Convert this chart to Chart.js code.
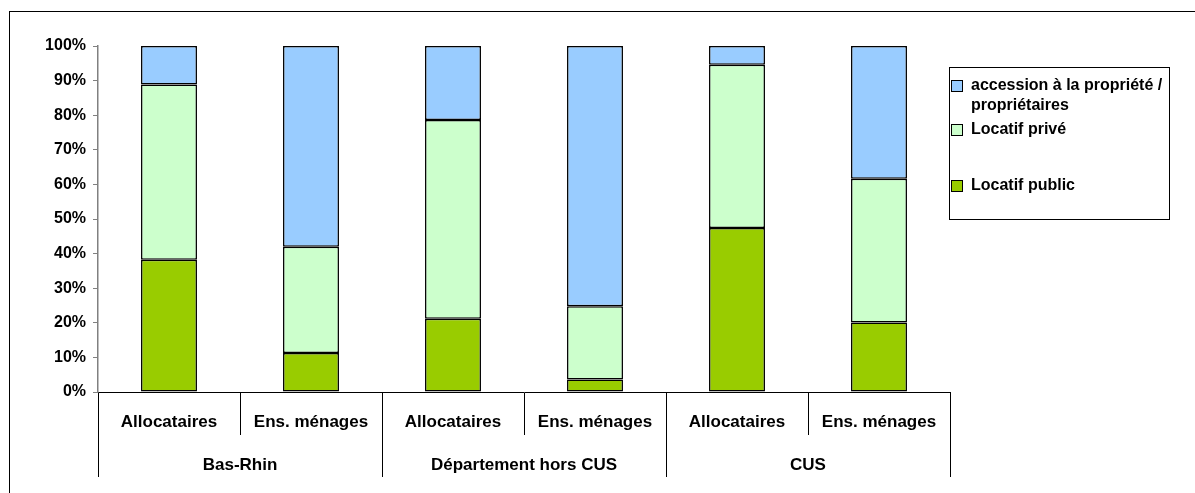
<!DOCTYPE html>
<html>
<head>
<meta charset="utf-8">
<script src="https://cdn.jsdelivr.net/npm/chart.js@4.4.0/dist/chart.umd.min.js"></script>
<style>
  html, body { margin: 0; padding: 0; background: #fff; }
  #wrap { width: 1195px; height: 493px; position: relative; }
</style>
</head>
<body>
<div id="wrap"><canvas id="chart-statut"></canvas></div>
<script>
// repartition des menages par statut d'occupation

var categories = ['Allocataires', 'Ens. ménages', 'Allocataires', 'Ens. ménages', 'Allocataires', 'Ens. ménages'];
var groups = ['Bas-Rhin', 'Département hors CUS', 'CUS'];

var locatifPublic = [38.2, 11.3, 21.2, 3.6, 47.4, 20.1];
var locatifPrive = [50.7, 30.7, 57.4, 21.2, 47.2, 41.5];
var accession = [11.1, 58.0, 21.4, 75.2, 5.4, 38.4];

var seriesLabels = ['Locatif public', 'Locatif privé', ['accession à la propriété /', 'propriétaires']];
var seriesColors = ['#99CC00', '#CCFFCC', '#99CCFF'];

Chart.defaults.font.family = 'Arial, "Liberation Sans", sans-serif';
Chart.defaults.color = '#000';

// cadre exterieur + legende dessinee a la main
var cadrePlugin = {
    id: 'cadre',
    beforeDraw: function (chart) {
        var ctx = chart.ctx;
        ctx.save();
        ctx.fillStyle = '#fff';
        ctx.fillRect(0, 0, chart.width, chart.height);
        ctx.strokeStyle = '#000';
        ctx.lineWidth = 1;
        ctx.strokeRect(9.5, 11.5, 1400, 700);
        ctx.restore();
    },
    afterDraw: function (chart) {
        var ctx = chart.ctx;
        ctx.save();
        ctx.strokeStyle = '#000';
        ctx.lineWidth = 1;
        ctx.strokeRect(949.5, 67.5, 220, 152);

        // ordre inverse : accession en haut
        var rowY = [86, 130, 186];
        var ds = chart.data.datasets.slice().reverse();
        ctx.font = 'bold 16px Arial, "Liberation Sans", sans-serif';
        ctx.textBaseline = 'middle';
        ctx.textAlign = 'left';
        ds.forEach(function (d, i) {
            var y = rowY[i];
            ctx.fillStyle = d.backgroundColor;
            ctx.fillRect(951.5, y - 5.5, 11, 11);
            ctx.strokeStyle = '#000';
            ctx.strokeRect(951.5, y - 5.5, 11, 11);
            ctx.fillStyle = '#000';
            var lines = Array.isArray(d.label) ? d.label : [d.label];
            lines.forEach(function (l, j) {
                ctx.fillText(l, 971, y + j * 20);
            });
        });
        ctx.restore();
    }
};

var datasets = [locatifPublic, locatifPrive, accession].map(function (serie, i) {
    return {
        label: seriesLabels[i],
        data: serie,
        backgroundColor: seriesColors[i],
        borderColor: '#000',
        borderWidth: 1.5,
        borderSkipped: false,
        inflateAmount: 0,
        barPercentage: 0.394,
        categoryPercentage: 1.0
    };
});

var ctx = document.getElementById('chart-statut').getContext('2d');

var chartStatut = new Chart(ctx, {
    type: 'bar',
    data: {
        labels: categories,
        datasets: datasets
    },
    options: {
        responsive: true,
        maintainAspectRatio: false,
        animation: false,
        layout: {
            padding: { top: 46, right: 245, left: 0, bottom: 0 }
        },
        plugins: {
            legend: { display: false },
            tooltip: { enabled: false }
        },
        scales: {
            x: {
                stacked: true,
                offset: true,
                weight: 0,
                grid: {
                    offset: true,
                    drawOnChartArea: false,
                    drawTicks: true,
                    tickLength: 43,
                    color: '#000'
                },
                border: { color: '#000', width: 1 },
                ticks: {
                    font: { size: 17, weight: 'bold' },
                    color: '#000',
                    padding: -23,
                    maxRotation: 0,
                    autoSkip: false
                },
                afterFit: function (scale) { scale.height = 43; }
            },
            x2: {
                type: 'category',
                labels: groups,
                position: 'bottom',
                weight: 1,
                offset: true,
                grid: {
                    offset: true,
                    drawOnChartArea: false,
                    drawTicks: true,
                    tickLength: 42,
                    color: '#000'
                },
                border: { display: false },
                ticks: {
                    font: { size: 17, weight: 'bold' },
                    color: '#000',
                    padding: -22,
                    maxRotation: 0,
                    autoSkip: false
                },
                afterFit: function (scale) { scale.height = 58; }
            },
            y: {
                stacked: true,
                min: 0,
                max: 100,
                grid: {
                    drawOnChartArea: false,
                    drawTicks: true,
                    tickLength: 5,
                    color: '#808080'
                },
                border: { color: '#808080', width: 1.5 },
                ticks: {
                    stepSize: 10,
                    padding: 7,
                    font: { size: 16, weight: 'bold' },
                    color: '#000',
                    callback: function (value) { return value + '%'; }
                },
                afterFit: function (scale) { scale.width = 98; }
            }
        }
    },
    plugins: [cadrePlugin]
});
</script>
</body>
</html>
